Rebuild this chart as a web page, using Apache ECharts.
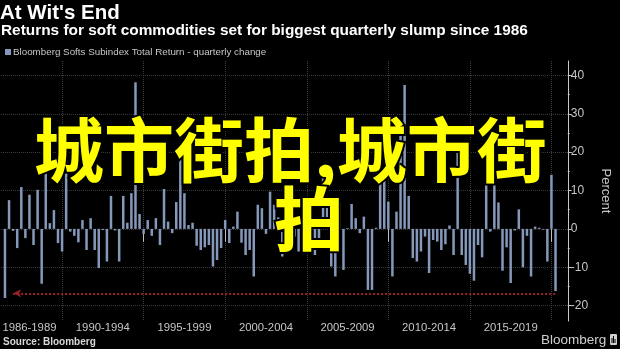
<!DOCTYPE html>
<html>
<head>
<meta charset="utf-8">
<script src="https://cdn.jsdelivr.net/npm/echarts@6/dist/echarts.min.js"></script>
<style>
  html, body { margin: 0; padding: 0; background: #000; }
  #chart { width: 620px; height: 349px; }
</style>
</head>
<body>
<div id="chart"></div>
<script>
// Quarter-end categories, 1986 Q1 through 2020 Q4
const firstYear = 1986;
const lastYear = 2020;
const quarters = [];
for (let y = firstYear; y <= lastYear; y++) {
  for (let q = 1; q <= 4; q++) quarters.push(y + ' Q' + q);
}

// Bloomberg Softs Subindex Total Return, quarterly % change, 1986 Q2 .. 2020 Q1
const quarterlyChange = [
  -18.0, 7.5, -0.5, -5.0, 10.9, -2.4, 8.9, -4.2, 10.2, -14.3,
  20.6, 1.5, 4.9, -3.7, -5.9, 20.0, -0.7, -1.8, -3.5, 2.3,
  -5.5, 2.8, -5.5, -10.2, -0.3, -8.5, 8.6, -0.4, -8.5, 8.6,
  1.6, 9.3, 38.2, 3.9, -1.3, 2.3, -1.8, 2.8, -4.2, 10.4,
  1.9, -1.1, 7.0, 21.0, 9.3, 1.0, 1.6, -4.4, -5.5, -4.8,
  -4.2, -9.8, -8.1, -5.0, 2.3, -3.7, 0.6, 4.5, -3.6, -6.8,
  -5.5, -12.4, 6.3, 5.4, -1.3, 9.7, 6.3, 3.0, -7.2, -4.0,
  -1.1, -2.0, -5.9, 4.0, -3.0, 6.8, -6.8, -4.2, 13.6, 5.8,
  -9.8, -12.4, 6.9, -10.7, 0.2, 6.5, 2.8, -1.1, 3.2, -15.9,
  -15.9, 0.3, 14.0, 15.0, 7.1, -12.4, 4.5, 27.6, 37.5, 8.6,
  -7.6, -8.5, -5.9, -2.0, -11.5, -2.9, -3.3, -5.5, -4.0, 0.9,
  -6.8, 22.0, -6.8, -9.4, -11.7, -13.5, -4.2, -7.4, 11.5, -0.7,
  17.0, 6.9, -10.9, -4.8, -14.1, -0.4, 5.1, -10.0, -1.8, -12.4,
  0.6, 0.3, -0.2, -8.5, 14.1, -16.2
];
const firstDataQuarter = '1986 Q2';

const periodLabels = ['1986-1989', '1990-1994', '1995-1999', '2000-2004', '2005-2009', '2010-2014', '2015-2019'];
const yTicks = [-20, -10, 0, 10, 20, 30, 40];
const yMinorTicks = [-15, -5, 5, 15, 25, 35];
const yMin = -24.0;
const yMax = 43.75;
const slumpLevel = -16.8;
const slumpFrom = '1986 Q4';
const slumpTo = '2020 Q1';

const barColor = '#8598ba';
const gridColor = '#3d3d3d';
const axisTextColor = '#c6c6c6';

const startIdx = quarters.indexOf(firstDataQuarter);
const seriesData = quarters.map((q, i) => {
  const v = quarterlyChange[i - startIdx];
  return v === undefined ? '-' : v;
});

// Period separators sit on the Q4 point before each 5-year block
const isSeparator = (i) => i % 20 === 15;
// Period label anchor: middle of each block
function periodIndex(i) {
  if (i === 7) return 0;
  if (i >= 25 && (i - 25) % 20 === 0) {
    const k = (i - 25) / 20 + 1;
    return k < periodLabels.length ? k : -1;
  }
  return -1;
}

const chart = echarts.init(document.getElementById('chart'), null, { renderer: 'canvas' });

chart.setOption({
  backgroundColor: '#000',
  animation: false,
  grid: { left: -2, right: 41, top: 61, bottom: 28, containLabel: false },
  xAxis: {
    type: 'category',
    data: quarters,
    boundaryGap: false,
    axisLine: { show: false },
    axisTick: {
      show: true,
      interval: (i) => isSeparator(i),
      length: 13,
      lineStyle: { color: '#bdbdbd', width: 1 }
    },
    axisLabel: {
      interval: (i) => periodIndex(i) >= 0,
      formatter: (v, i) => { const k = periodIndex(i); return k >= 0 ? periodLabels[k] : ''; },
      color: axisTextColor,
      fontFamily: 'Liberation Sans',
      fontSize: 11.3,
      margin: 1
    },
    splitLine: {
      show: true,
      interval: (i) => isSeparator(i),
      lineStyle: { color: gridColor, type: 'dotted', width: 1 }
    }
  },
  yAxis: [
    {
      type: 'value',
      position: 'right',
      min: yMin,
      max: yMax,
      name: 'Percent',
      nameLocation: 'middle',
      nameRotate: -90,
      nameGap: 31,
      nameTextStyle: { color: axisTextColor, fontFamily: 'Liberation Sans', fontSize: 13 },
      axisLine: { show: true, lineStyle: { color: '#c8c8c8', width: 1 } },
      axisTick: { show: true, customValues: yTicks, length: 4, lineStyle: { color: '#c8c8c8' } },
      axisLabel: {
        customValues: yTicks,
        color: axisTextColor,
        fontFamily: 'Liberation Sans',
        fontSize: 12,
        margin: 3
      },
      splitLine: { show: true, lineStyle: { color: gridColor, type: 'dotted', width: 1 } }
    },
    {
      type: 'value',
      position: 'right',
      min: yMin,
      max: yMax,
      axisLine: { show: false },
      axisTick: { show: true, customValues: yMinorTicks, length: 2, lineStyle: { color: '#c8c8c8' } },
      axisLabel: { show: false },
      splitLine: { show: false }
    }
  ],
  series: [
    {
      name: 'Bloomberg Softs Subindex Total Return - quarterly change',
      type: 'bar',
      data: seriesData,
      barWidth: 2.5,
      itemStyle: { color: barColor },
      markLine: {
        silent: true,
        symbol: ['arrow', 'none'],
        symbolSize: [6, 8],
        label: { show: false },
        lineStyle: { color: '#9a2127', type: 'dotted', width: 2 },
        data: [[
          { coord: [slumpFrom, slumpLevel] },
          { coord: [slumpTo, slumpLevel] }
        ]]
      }
    }
  ],
  graphic: [
    {
      type: 'text', x: 0, y: 13,
      style: { text: "At Wit's End", font: 'bold 20.5px "Liberation Sans"', fill: '#ffffff', verticalAlign: 'middle' }
    },
    {
      type: 'text', x: 1, y: 31,
      style: { text: 'Returns for soft commodities set for biggest quarterly slump since 1986', font: 'bold 15.4px "Liberation Sans"', fill: '#ffffff', verticalAlign: 'middle' }
    },
    {
      type: 'rect', shape: { x: 5, y: 49, width: 6, height: 6 }, style: { fill: barColor }
    },
    {
      type: 'text', x: 13, y: 52.5,
      style: { text: 'Bloomberg Softs Subindex Total Return - quarterly change', font: '9.8px "Liberation Sans"', fill: axisTextColor, verticalAlign: 'middle' }
    },
    {
      type: 'text', x: 3, y: 342,
      style: { text: 'Source: Bloomberg', font: 'bold 10px "Liberation Sans"', fill: '#d8d8d8', verticalAlign: 'middle' }
    },
    {
      type: 'text', x: 541, y: 340,
      style: { text: 'Bloomberg', font: '13.5px "Liberation Sans"', fill: '#d0d0d0', verticalAlign: 'middle' }
    },
    {
      type: 'group', x: 610, y: 334,
      children: [
        { type: 'rect', shape: { x: 0, y: 0, width: 7, height: 11, r: 1 }, style: { fill: '#d0d0d0' } },
        { type: 'rect', shape: { x: 1.5, y: 4, width: 1, height: 5 }, style: { fill: '#000' } },
        { type: 'rect', shape: { x: 3, y: 2, width: 1, height: 7 }, style: { fill: '#000' } },
        { type: 'rect', shape: { x: 4.5, y: 5, width: 1, height: 4 }, style: { fill: '#000' } }
      ]
    },
    {
      type: 'text', x: 34, y: 150, z: 100,
      style: {
        text: '城市街拍,城市街',
        font: 'bold 70px "Noto Sans CJK SC"',
        fill: '#ffff00', stroke: '#000', lineWidth: 4, strokeFirst: true,
        verticalAlign: 'middle'
      }
    },
    {
      type: 'text', x: 274, y: 219, z: 100,
      style: {
        text: '拍',
        font: 'bold 70px "Noto Sans CJK SC"',
        fill: '#ffff00', stroke: '#000', lineWidth: 4, strokeFirst: true,
        verticalAlign: 'middle'
      }
    }
  ]
});
</script>
</body>
</html>
